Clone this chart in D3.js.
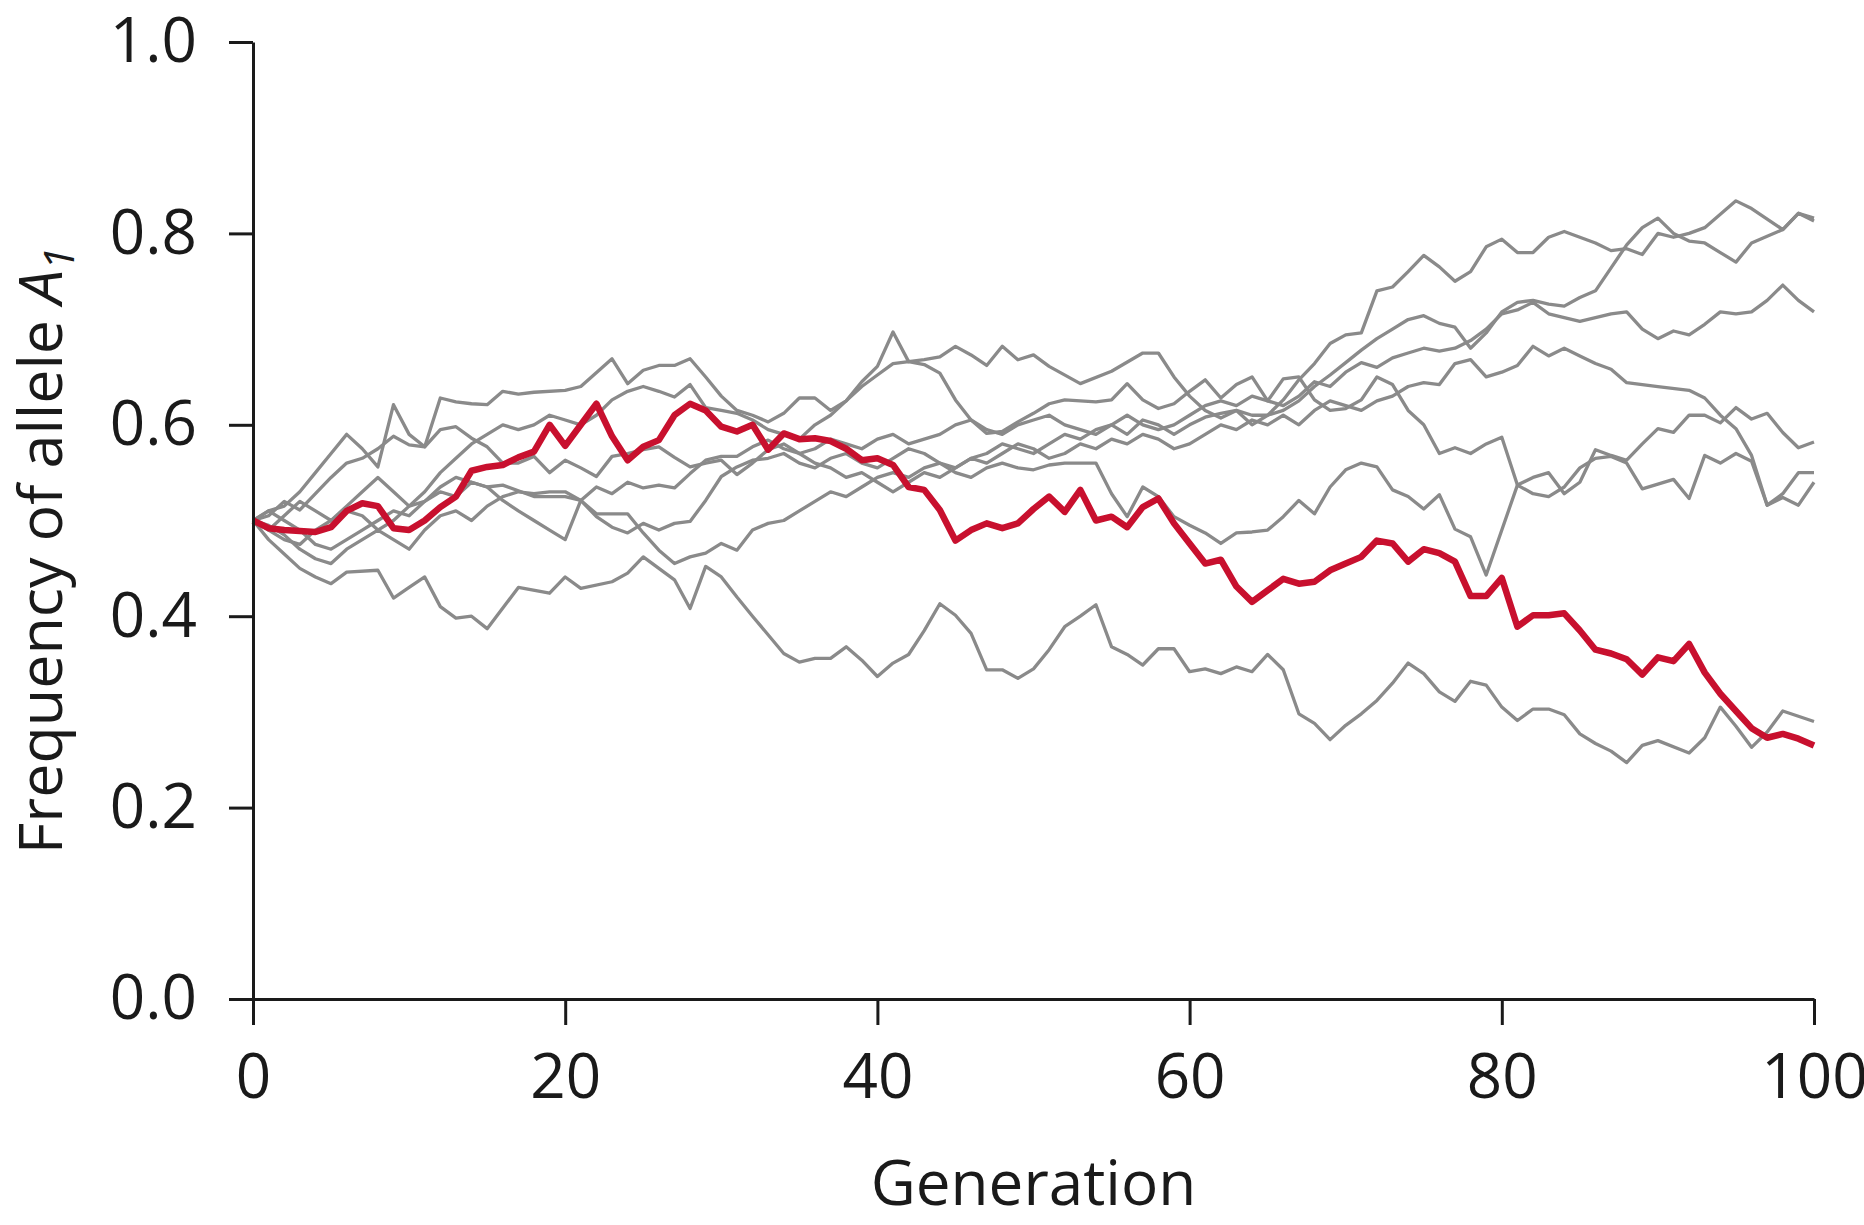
<!DOCTYPE html>
<html>
<head>
<meta charset="utf-8">
<script src="https://cdn.jsdelivr.net/npm/d3@7"></script>
<style>
  body { margin: 0; background: #fff; }
  text { font-family: "Open Sans", "Noto Sans", sans-serif; }
</style>
</head>
<body>
<div id="root"></div>
<script>
// tick values
const xTicks = [0, 20, 40, 60, 80, 100];
const yTicks = [0, 0.2, 0.4, 0.6, 0.8, 1.0];

// highlighted run [generation, frequency]
const redRun = [[0,.500],[1,.492],[2,.490],[3,.489],[4,.488],[5,.493],[6,.510],[7,.518],[8,.515],[9,.492],[10,.490],
  [11,.500],[12,.514],[13,.525],[14,.552],[15,.556],[16,.558],[17,.566],[18,.572],[19,.600],[20,.578],
  [21,.600],[22,.622],[23,.588],[24,.563],[25,.577],[26,.584],[27,.610],[28,.622],[29,.615],[30,.598],
  [31,.593],[32,.600],[33,.574],[34,.591],[35,.585],[36,.586],[37,.583],[38,.575],[39,.563],[40,.565],
  [41,.558],[42,.535],[43,.532],[44,.511],[45,.479],[46,.490],[47,.497],[48,.492],[49,.497],[50,.512],
  [51,.525],[52,.509],[53,.532],[54,.500],[55,.504],[56,.493],[57,.514],[58,.523],[59,.497],[60,.476],
  [61,.455],[62,.459],[63,.431],[64,.415],[65,.427],[66,.439],[67,.434],[68,.436],[69,.448],[70,.455],
  [71,.462],[72,.479],[73,.476],[74,.457],[75,.470],[76,.466],[77,.457],[78,.421],[79,.421],[80,.440],
  [81,.389],[82,.401],[83,.401],[84,.403],[85,.385],[86,.365],[87,.361],[88,.355],[89,.339],[90,.357],
  [91,.353],[92,.371],[93,.341],[94,.319],[95,.301],[96,.283],[97,.273],[98,.277],[99,.272],[100,.265]];

// grey runs
const greyA = [[0,.50],[1,.49],[2,.505],[3,.52],[4,.51],[5,.50],[6,.515],[7,.53],[8,.545],[9,.53],[10,.515],
  [11,.52],[12,.535],[13,.545],[14,.54],[15,.535],[16,.537],[18,.525],[20,.525],[21,.521],[22,.504],
  [23,.493],[24,.487],[25,.497],[26,.49],[27,.497],[28,.499],[29,.521],[30,.546],[31,.556],[32,.563],
  [33,.565],[34,.57],[35,.56],[36,.555],[37,.565],[38,.57],[39,.56],[40,.555],[41,.565],[42,.575],
  [43,.57],[44,.56],[45,.555],[46,.565],[47,.57],[48,.58],[49,.575],[50,.57],[51,.58],[52,.59],
  [53,.585],[54,.595],[55,.60],[56,.59],[57,.605],[58,.60],[59,.59],[60,.60],[61,.608],[62,.612],
  [63,.615],[64,.61],[65,.61],[66,.626],[67,.647],[68,.664],[69,.685],[70,.694],[71,.696],[72,.74],
  [73,.744],[74,.76],[75,.777],[76,.765],[77,.75],[78,.76],[79,.786],[80,.794],[81,.78],[82,.78],
  [83,.796],[84,.802],[85,.796],[86,.79],[87,.782],[88,.784],[89,.778],[90,.80],[91,.796],[92,.80],
  [93,.806],[94,.82],[95,.834],[96,.826],[97,.815],[98,.804],[99,.821],[100,.816]];

const greyB = [[0,.50],[1,.51],[2,.515],[3,.53],[4,.55],[5,.57],[6,.59],[7,.575],[8,.556],[9,.621],[10,.59],
  [11,.577],[12,.628],[13,.624],[14,.622],[15,.621],[16,.635],[17,.632],[18,.634],[20,.636],[21,.64],
  [23,.669],[24,.643],[25,.657],[26,.662],[27,.662],[28,.669],[29,.65],[30,.63],[31,.615],[32,.61],
  [33,.603],[34,.612],[35,.628],[36,.628],[37,.615],[38,.625],[39,.645],[40,.661],[41,.697],[42,.666],
  [43,.668],[44,.671],[45,.682],[46,.673],[47,.662],[48,.682],[49,.668],[50,.673],[51,.661],[53,.643],
  [55,.656],[57,.675],[58,.675],[59,.65],[60,.63],[61,.615],[62,.607],[63,.615],[64,.60],[65,.61],
  [66,.615],[67,.625],[68,.64],[69,.652],[70,.665],[71,.678],[72,.69],[73,.70],[74,.71],[75,.714],
  [76,.706],[77,.702],[78,.68],[79,.696],[80,.718],[81,.728],[82,.73],[83,.726],[84,.724],[85,.733],
  [86,.74],[87,.764],[88,.788],[89,.806],[90,.816],[91,.80],[92,.792],[93,.79],[94,.78],[95,.77],
  [96,.79],[97,.797],[98,.804],[99,.821],[100,.813]];

const greyC = [[0,.50],[1,.505],[2,.52],[3,.511],[4,.528],[5,.545],[6,.56],[7,.565],[8,.575],[9,.588],[10,.579],
  [11,.577],[12,.595],[13,.598],[14,.586],[15,.577],[16,.56],[17,.56],[18,.567],[19,.55],[20,.563],
  [21,.555],[22,.546],[23,.567],[24,.57],[25,.574],[26,.577],[27,.566],[28,.556],[29,.56],[30,.563],
  [31,.548],[32,.56],[33,.574],[34,.58],[35,.57],[36,.575],[37,.585],[38,.58],[39,.575],[40,.585],
  [41,.59],[42,.58],[43,.585],[44,.59],[45,.60],[46,.605],[47,.595],[48,.59],[49,.60],[50,.605],
  [51,.61],[52,.60],[53,.595],[54,.59],[55,.60],[56,.61],[57,.60],[58,.595],[59,.60],[60,.61],
  [61,.62],[62,.625],[63,.62],[64,.63],[65,.625],[66,.62],[67,.63],[68,.645],[69,.64],[70,.655],
  [71,.665],[72,.66],[73,.67],[74,.675],[75,.68],[76,.677],[77,.68],[78,.688],[79,.70],[80,.716],
  [81,.72],[82,.728],[83,.716],[84,.712],[85,.708],[86,.712],[87,.716],[88,.718],[89,.70],[90,.69],
  [91,.698],[92,.694],[93,.705],[94,.718],[95,.716],[96,.718],[97,.73],[98,.746],[99,.73],[100,.718]];

const greyD = [[0,.50],[1,.49],[2,.48],[3,.475],[4,.49],[5,.50],[6,.51],[7,.505],[8,.49],[9,.50],[10,.515],
  [11,.53],[12,.55],[13,.565],[14,.58],[15,.59],[16,.60],[17,.595],[18,.60],[19,.61],[20,.605],
  [21,.60],[22,.61],[23,.626],[24,.635],[25,.64],[26,.635],[27,.629],[28,.642],[29,.618],[30,.615],
  [31,.612],[32,.605],[33,.595],[34,.59],[35,.585],[36,.60],[37,.61],[38,.625],[39,.64],[40,.652],
  [41,.664],[42,.666],[43,.663],[44,.654],[45,.626],[46,.605],[47,.591],[48,.593],[49,.603],[50,.612],
  [51,.622],[52,.626],[53,.625],[54,.624],[55,.626],[56,.643],[57,.626],[58,.617],[59,.622],[60,.635],
  [61,.647],[62,.628],[63,.642],[64,.65],[65,.625],[66,.648],[67,.65],[68,.626],[69,.615],[70,.617],
  [71,.626],[72,.65],[73,.642],[74,.615],[75,.60],[76,.57],[77,.576],[78,.57],[79,.58],[80,.587],
  [81,.537],[82,.545],[83,.55],[84,.528],[85,.54],[86,.574],[87,.568],[88,.563],[89,.58],[90,.596],
  [91,.592],[92,.61],[93,.61],[94,.602],[95,.618],[96,.606],[97,.612],[98,.592],[99,.576],[100,.582]];

const greyE = [[0,.50],[1,.495],[2,.485],[3,.47],[4,.46],[5,.455],[6,.47],[7,.48],[8,.49],[9,.48],[10,.47],
  [11,.49],[12,.505],[13,.51],[14,.50],[15,.515],[16,.525],[17,.53],[18,.528],[19,.53],[20,.53],
  [21,.521],[22,.507],[23,.507],[24,.507],[25,.487],[26,.469],[27,.455],[28,.462],[29,.466],[30,.476],
  [31,.469],[32,.49],[33,.497],[34,.50],[35,.51],[36,.52],[37,.53],[38,.525],[39,.535],[40,.545],
  [41,.55],[42,.545],[43,.555],[44,.56],[45,.55],[46,.545],[47,.555],[48,.56],[49,.555],[50,.553],
  [51,.558],[52,.56],[53,.56],[54,.56],[55,.528],[56,.504],[57,.535],[58,.525],[59,.504],[60,.495],
  [61,.487],[62,.476],[63,.487],[64,.488],[65,.49],[66,.504],[67,.521],[68,.507],[69,.535],[70,.553],
  [71,.56],[72,.556],[73,.532],[74,.525],[75,.512],[76,.527],[77,.491],[78,.483],[79,.443],[81,.537],
  [82,.528],[83,.525],[84,.535],[85,.555],[86,.565],[87,.567],[88,.56],[89,.533],[90,.538],[91,.543],
  [92,.523],[93,.568],[94,.56],[95,.57],[96,.562],[97,.516],[98,.528],[99,.55],[100,.55]];

const greyF = [[0,.50],[1,.51],[2,.50],[3,.49],[4,.475],[5,.47],[6,.48],[7,.49],[8,.50],[9,.51],[10,.505],
  [11,.52],[12,.53],[13,.525],[14,.54],[15,.535],[16,.521],[17,.51],[18,.50],[19,.49],[20,.48],
  [21,.521],[22,.535],[23,.528],[24,.54],[25,.534],[26,.537],[27,.534],[28,.549],[29,.563],[30,.567],
  [31,.567],[32,.577],[33,.584],[34,.575],[35,.57],[36,.56],[37,.555],[38,.545],[39,.55],[40,.54],
  [41,.53],[42,.54],[43,.55],[44,.545],[45,.555],[46,.565],[47,.56],[48,.57],[49,.58],[50,.575],
  [51,.565],[52,.57],[53,.58],[54,.575],[55,.585],[56,.58],[57,.59],[58,.585],[59,.575],[60,.58],
  [61,.59],[62,.60],[63,.595],[64,.605],[65,.60],[66,.61],[67,.60],[68,.615],[69,.625],[70,.62],
  [71,.615],[72,.625],[73,.63],[74,.64],[75,.644],[76,.642],[77,.664],[78,.668],[79,.65],[80,.655],
  [81,.662],[82,.682],[83,.672],[84,.68],[85,.672],[86,.664],[87,.658],[88,.644],[90,.64],[92,.636],
  [93,.628],[94,.61],[95,.596],[96,.568],[97,.516],[98,.524],[99,.516],[100,.54]];

const greyG = [[0,.50],[1,.48],[2,.465],[3,.45],[4,.441],[5,.434],[6,.446],[8,.448],[9,.419],[10,.43],
  [11,.441],[12,.41],[13,.398],[14,.40],[15,.387],[17,.43],[19,.424],[20,.441],[21,.429],[23,.436],
  [24,.445],[25,.462],[27,.438],[28,.408],[29,.452],[30,.441],[31,.42],[32,.40],[34,.361],[35,.352],
  [36,.356],[37,.356],[38,.368],[39,.354],[40,.337],[41,.351],[42,.36],[43,.385],[44,.413],[45,.401],
  [46,.382],[47,.344],[48,.344],[49,.335],[50,.345],[51,.365],[52,.389],[53,.40],[54,.412],[55,.368],
  [56,.36],[57,.349],[58,.366],[59,.366],[60,.342],[61,.345],[62,.34],[63,.347],[64,.342],[65,.36],
  [66,.344],[67,.298],[68,.288],[69,.271],[70,.286],[71,.298],[72,.312],[73,.33],[74,.351],[75,.34],
  [76,.321],[77,.311],[78,.332],[79,.328],[80,.305],[81,.291],[82,.303],[83,.303],[84,.297],[85,.277],
  [86,.267],[87,.259],[88,.247],[89,.265],[90,.27],[92,.257],[93,.273],[94,.305],[95,.285],[96,.263],
  [97,.279],[98,.301],[100,.29]];

const greyRuns = [greyA, greyB, greyC, greyD, greyE, greyF, greyG];

const margin = { left: 253, right: 50, top: 42, bottom: 226 };
const W = 1864, H = 1225;
const width = W - margin.left - margin.right;
const height = H - margin.top - margin.bottom;

const svg = d3.select('#root').append('svg')
  .attr('width', W)
  .attr('height', H)
  .style('background', '#fff');

const g = svg.append('g')
  .attr('transform', `translate(${margin.left}, ${margin.top})`);

const x = d3.scaleLinear().domain([0, 100]).range([0, width]);
const y = d3.scaleLinear().domain([0, 1]).range([height, 0]);

const line = d3.line()
  .x(d => x(d[0]))
  .y(d => y(d[1]));

// grey runs first, red one on top
g.append('g').selectAll('path').data(greyRuns)
  .enter().append('path')
    .attr('d', line)
    .attr('fill', 'none')
    .attr('stroke', '#8a8a8a')
    .attr('stroke-width', 3.3)
    .attr('stroke-linejoin', 'round');

g.append('path')
  .datum(redRun)
  .attr('d', line)
  .attr('fill', 'none')
  .attr('stroke', '#c8102e')
  .attr('stroke-width', 6.5)
  .attr('stroke-linejoin', 'round');

// axes
const yAxis = d3.axisLeft(y)
  .tickValues(yTicks)
  .tickFormat(d3.format('.1f'))
  .tickSize(24)
  .tickSizeOuter(0)
  .tickPadding(32);

const xAxis = d3.axisBottom(x)
  .tickValues(xTicks)
  .tickSize(26)
  .tickSizeOuter(0)
  .tickPadding(29);

const yg = g.append('g').call(yAxis);
const xg = g.append('g')
  .attr('transform', `translate(0, ${height})`)
  .call(xAxis);

[yg, xg].forEach(ax => {
  ax.attr('font-family', null).attr('font-size', null);
  ax.select('.domain').attr('stroke', '#1a1a1a').attr('stroke-width', 3);
  ax.selectAll('.tick line').attr('stroke', '#1a1a1a').attr('stroke-width', 3);
  ax.selectAll('.tick text')
    .attr('fill', '#1a1a1a')
    .style('font-size', '62px');
});

// x axis label
svg.append('text')
  .attr('x', margin.left + width / 2)
  .attr('y', 1205)
  .attr('text-anchor', 'middle')
  .attr('fill', '#1a1a1a')
  .style('font-size', '62px')
  .text('Generation');

// y axis label
const yl = svg.append('text')
  .attr('transform', `translate(62, ${margin.top + height / 2 + 30}) rotate(-90)`)
  .attr('text-anchor', 'middle')
  .attr('fill', '#1a1a1a')
  .style('font-size', '61px');
yl.append('tspan').text('Frequency of allele ');
yl.append('tspan').style('font-style', 'italic').text('A');
yl.append('tspan').style('font-style', 'italic').style('font-size', '42px').attr('dy', 12).text('1');
</script>
</body>
</html>
